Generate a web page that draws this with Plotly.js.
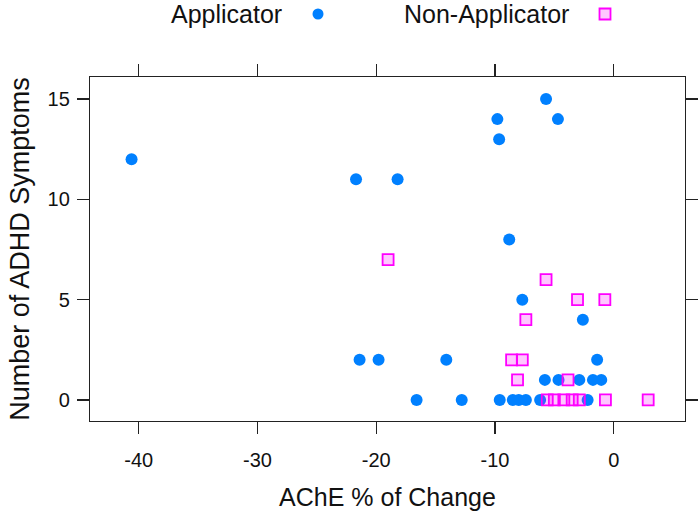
<!DOCTYPE html>
<html>
<head>
<meta charset="utf-8">
<script src="https://cdn.plot.ly/plotly-3.0.1.min.js"></script>
<style>html,body{margin:0;padding:0;background:#fff;}#chart{width:700px;height:519px;}</style>
</head>
<body>
<div id="chart"></div>
<script>
// Applicator group
const applicatorAChE = [-40.6, -21.7, -18.2, -9.8, -9.65, -5.7, -4.7, -8.8, -7.7, -2.6,
  -21.4, -19.8, -14.1, -1.4,
  -5.8, -4.65, -2.9, -1.75, -1.05,
  -16.6, -12.8, -9.6, -8.5, -8.0, -7.4, -6.2, -2.2];
const applicatorADHD = [12, 11, 11, 14, 13, 15, 14, 8, 5, 4,
  2, 2, 2, 2,
  1, 1, 1, 1, 1,
  0, 0, 0, 0, 0, 0, 0, 0];
// Non-applicator group
const nonApplicatorAChE = [-19.0, -5.7, -3.05, -0.75, -7.4, -8.6, -7.7, -8.1, -3.85,
  -5.6, -5.0, -4.2, -3.5, -2.9, -0.7, 2.9];
const nonApplicatorADHD = [7, 6, 5, 5, 4, 2, 2, 1, 1,
  0, 0, 0, 0, 0, 0, 0];
const seriesNames = ["Applicator", "Non-Applicator"];
const xTicks = [-40, -30, -20, -10, 0];
const yTicks = [0, 5, 10, 15];

const FONT = "Liberation Sans, Arial, sans-serif";
const L = 90, R = 685, T = 77, B = 421;
const px2x = p => (p - L) / (R - L);
const px2y = p => (B - p) / (B - T);

const traces = [
  {x: applicatorAChE, y: applicatorADHD, name: seriesNames[0], type: "scatter", mode: "markers",
   marker: {symbol: "circle", size: 12, color: "#0080FF", line: {width: 0}}},
  {x: nonApplicatorAChE, y: nonApplicatorADHD, name: seriesNames[1], type: "scatter", mode: "markers",
   marker: {symbol: "square", size: 11, color: "rgba(255,0,255,0.22)", line: {width: 1.8, color: "#FF00FF"}}}
];

const axisCommon = {
  showgrid: false, zeroline: false, showline: true, linecolor: "#222", linewidth: 1.2,
  mirror: "ticks", ticks: "outside", ticklen: 12, tickwidth: 1.2, tickcolor: "#222",
  tickfont: {family: FONT, size: 20, color: "#111"}
};

const layout = {
  width: 700, height: 519,
  margin: {l: L, r: 700 - R, t: T, b: 519 - B},
  paper_bgcolor: "#fff", plot_bgcolor: "#fff",
  showlegend: false,
  xaxis: Object.assign({}, axisCommon, {
    range: [-44.1, 6], tickvals: xTicks, ticktext: xTicks.map(String), ticklabelstandoff: 9,
    title: {text: "AChE % of Change", font: {family: FONT, size: 25, color: "#111"}, standoff: 18}
  }),
  yaxis: Object.assign({}, axisCommon, {
    range: [-1.05, 16.1], tickvals: yTicks, ticktext: yTicks.map(String), ticklabelstandoff: 3,
    title: {text: "Number of ADHD Symptoms", font: {family: FONT, size: 27, color: "#111"}, standoff: 10}
  }),
  annotations: [
    {xref: "paper", yref: "paper", x: px2x(284), y: px2y(14), xanchor: "right", yanchor: "middle",
     text: seriesNames[0], showarrow: false, font: {family: FONT, size: 25, color: "#111"}},
    {xref: "paper", yref: "paper", x: px2x(571), y: px2y(14), xanchor: "right", yanchor: "middle",
     text: seriesNames[1], showarrow: false, font: {family: FONT, size: 25, color: "#111"}}
  ],
  shapes: [
    {type: "circle", xref: "paper", yref: "paper", xsizemode: "pixel", ysizemode: "pixel",
     xanchor: px2x(318), yanchor: px2y(14), x0: -5.5, x1: 5.5, y0: -5.5, y1: 5.5,
     fillcolor: "#0080FF", line: {width: 0}},
    {type: "rect", xref: "paper", yref: "paper", xsizemode: "pixel", ysizemode: "pixel",
     xanchor: px2x(605), yanchor: px2y(14), x0: -5.5, x1: 5.5, y0: -5.5, y1: 5.5,
     fillcolor: "rgba(255,0,255,0.22)", line: {width: 1.8, color: "#FF00FF"}}
  ]
};

Plotly.newPlot("chart", traces, layout, {displayModeBar: false, staticPlot: true});
</script>
</body>
</html>
